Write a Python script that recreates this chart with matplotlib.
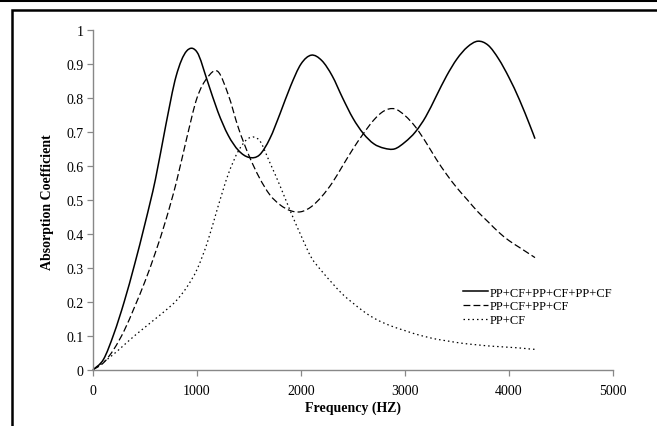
#!/usr/bin/python3

import matplotlib
matplotlib.use('Agg')
import matplotlib.pyplot as plt
from matplotlib.lines import Line2D
from matplotlib.patches import PathPatch
from matplotlib.path import Path
from matplotlib.ticker import FuncFormatter

## Frequency grid (Hz) shared by the three curves.
frequency = [0, 100, 200, 300, 400, 500, 600, 700, 800, 900,
             1000, 1100, 1200, 1300, 1400, 1500, 1600, 1700, 1800, 1900,
             2000, 2100, 2200, 2300, 2400, 2500, 2600, 2700, 2800, 2900,
             3000, 3100, 3200, 3300, 3400, 3500, 3600, 3700, 3800, 3900,
             4000, 4100, 4200, 4250]

## Absorption coefficients.
triple_layer = [0, 0.03, 0.105, 0.2, 0.31, 0.43, 0.56, 0.72, 0.865, 0.938,
                0.935, 0.85, 0.76, 0.69, 0.645, 0.625, 0.632, 0.68, 0.755, 0.835,
                0.9, 0.926, 0.91, 0.865, 0.8, 0.74, 0.695, 0.665, 0.652, 0.65,
                0.67, 0.7, 0.745, 0.805, 0.865, 0.915, 0.95, 0.967, 0.955, 0.915,
                0.86, 0.795, 0.72, 0.68]

double_layer = [0, 0.02, 0.06, 0.115, 0.185, 0.26, 0.345, 0.44, 0.55, 0.68,
                0.8, 0.86, 0.878, 0.81, 0.71, 0.63, 0.565, 0.515, 0.485, 0.468,
                0.465, 0.48, 0.51, 0.55, 0.6, 0.65, 0.695, 0.735, 0.762, 0.768,
                0.748, 0.715, 0.67, 0.62, 0.575, 0.535, 0.5, 0.465, 0.435, 0.405,
                0.38, 0.36, 0.34, 0.33]

single_layer = [0, 0.022, 0.046, 0.073, 0.1, 0.125, 0.15, 0.175, 0.203, 0.242,
                0.295, 0.375, 0.478, 0.575, 0.645, 0.682, 0.675, 0.61, 0.54, 0.465,
                0.395, 0.33, 0.29, 0.255, 0.222, 0.196, 0.172, 0.152, 0.137, 0.125,
                0.115, 0.105, 0.097, 0.09, 0.085, 0.08, 0.076, 0.073, 0.07, 0.068,
                0.066, 0.064, 0.061, 0.06]

series_names = ['PP+CF+PP+CF+PP+CF', 'PP+CF+PP+CF', 'PP+CF']

x_ticks = [0, 1000, 2000, 3000, 4000, 5000]
y_ticks = [0, 0.1, 0.2, 0.3, 0.4, 0.5, 0.6, 0.7, 0.8, 0.9, 1]


## Builds an Excel style "smoothed line" path through the data points
## (cubic Bezier segments, Catmull-Rom tangents).
def smooth_path(xs, ys):
  n = len(xs)
  verts = [(xs[0], ys[0])]
  codes = [Path.MOVETO]
  for i in range(n - 1):
    i0 = max(i - 1, 0)
    i3 = min(i + 2, n - 1)
    c1 = (xs[i] + (xs[i + 1] - xs[i0]) / 6.0,
          ys[i] + (ys[i + 1] - ys[i0]) / 6.0)
    c2 = (xs[i + 1] - (xs[i3] - xs[i]) / 6.0,
          ys[i + 1] - (ys[i3] - ys[i]) / 6.0)
    verts += [c1, c2, (xs[i + 1], ys[i + 1])]
    codes += [Path.CURVE4, Path.CURVE4, Path.CURVE4]
  return Path(verts, codes)


def main():
  plt.rcParams['font.family'] = ['Liberation Serif', 'DejaVu Serif']

  W, H = 657, 427
  fig = plt.figure(figsize=(W / 100, H / 100), dpi=100)

  ## Plot area in pixel terms of the reference.
  left, right, bottom, top = 93, 613, 370.7, 31
  ax = fig.add_axes([left / W, 1 - bottom / H, (right - left) / W,
                     (bottom - top) / H])

  styles = [('-', 1.1), ((0, (5.5, 2.5)), 0.9), ((0, (1.2, 2.4)), 0.9)]
  all_series = [triple_layer, double_layer, single_layer]
  handles = []
  for values, (ls, lw), name in zip(all_series, styles, series_names):
    patch = PathPatch(smooth_path(frequency, values), fill=False,
                      edgecolor='black', linewidth=lw, linestyle=ls,
                      clip_on=False)
    ax.add_patch(patch)
    handles.append(Line2D([], [], color='black', linewidth=lw, linestyle=ls,
                          label=name))

  ax.set_xlim(0, 5000)
  ax.set_ylim(0, 1)
  ax.set_xticks(x_ticks)
  ax.set_yticks(y_ticks)
  ax.yaxis.set_major_formatter(FuncFormatter(lambda v, p: '%g' % v))

  ## Excel-like axes: grey left/bottom only.
  for side in ['top', 'right']:
    ax.spines[side].set_visible(False)
  for side in ['left', 'bottom']:
    ax.spines[side].set_color('#888888')
    ax.spines[side].set_linewidth(1.0)
  ax.tick_params(axis='both', direction='out', length=4, width=0.9,
                 color='#888888', labelsize=10, labelcolor='black')
  ax.tick_params(axis='x', pad=6)
  ax.tick_params(axis='y', pad=3)

  ax.set_xlabel('Frequency (HZ)', fontsize=10, fontweight='bold', labelpad=3)
  fig.text(48 / W, 1 - 202 / H, 'Absorption Coefficient', rotation=90,
           fontsize=10, fontweight='bold', ha='center', va='center')

  ax.legend(handles=handles, loc='center left',
            bbox_to_anchor=(463 / W, 1 - 307.5 / H),
            bbox_transform=fig.transFigure, frameon=False, fontsize=9,
            handlelength=2.0, handletextpad=0.15, labelspacing=0.15,
            borderpad=0, borderaxespad=0)

  ## Outer frame lines of the original figure.
  fig.add_artist(Line2D([0, 1], [1 - 1 / H, 1 - 1 / H], color='black',
                        linewidth=2.2, transform=fig.transFigure))
  fig.add_artist(Line2D([1, 12 / W, 12 / W], [1 - 10.5 / H, 1 - 10.5 / H, 0],
                        color='black', linewidth=1.8,
                        solid_joinstyle='miter', transform=fig.transFigure))

  fig.savefig('out.png', dpi=100)


if __name__ == '__main__':
  main()
